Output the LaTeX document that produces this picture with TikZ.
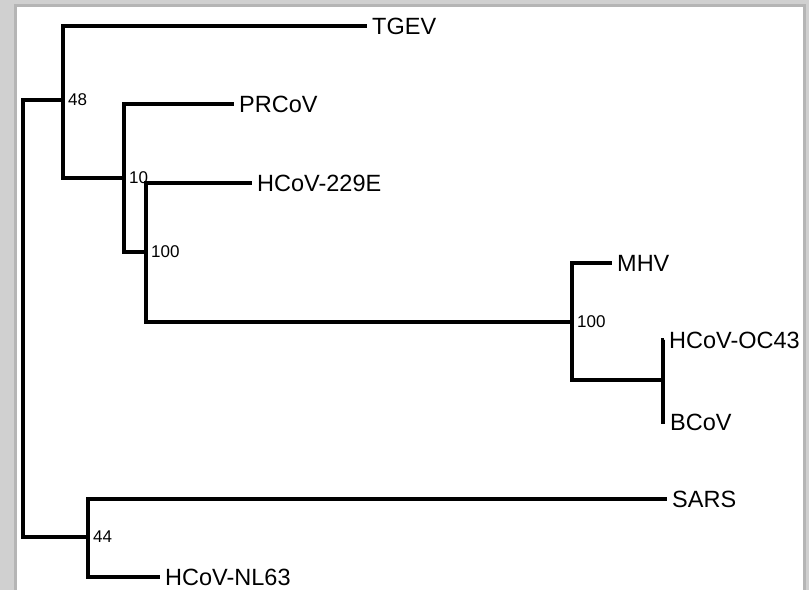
\documentclass[tikz,border=0pt]{standalone}
\usepackage{fontspec}
\setmainfont{Liberation Sans}
\usetikzlibrary{positioning}
\definecolor{FrameGray}{RGB}{208,208,208}
\definecolor{FrameEdge}{RGB}{170,170,170}

\begin{document}
\begin{tikzpicture}[
  x=1pt,y=-1pt,
  branch/.style={line width=4.5pt,line join=miter,line cap=butt},
  taxon/.style={anchor=west,inner sep=5pt,font=\fontsize{23.5}{25}\selectfont},
  boot/.style={anchor=west,inner sep=1pt,xshift=4pt,font=\fontsize{17}{19}\selectfont}
]
\useasboundingbox (0,0) rectangle (809,590);
% frame
\fill[FrameGray] (0,0) rectangle (809,590);
\fill[FrameEdge!70!FrameGray] (14,4) rectangle (806,590);
\fill[white] (17,7) rectangle (803,590);
% internal nodes
\coordinate (root) at (23,318);
\coordinate (n48) at (63,100);
\coordinate (n10) at (124,178);
\coordinate (n100a) at (146,252);
\coordinate (n100b) at (572,322);
\coordinate (noc) at (663,380);
\coordinate (n44) at (88,537);
% leaves
\node[taxon] (tgev) at (367,26) {TGEV};
\node[taxon] (prcov) at (234,104) {PRCoV};
\node[taxon] (hcoe) at (252,183) {HCoV-229E};
\node[taxon] (mhv) at (612,263) {MHV};
\node[taxon] (oc43) at (664,340) {HCoV-OC43};
\node[taxon] (bcov) at (665,422) {BCoV};
\node[taxon] (sars) at (667,499) {SARS};
\node[taxon] (nl63) at (160,577) {HCoV-NL63};
% branches
\draw[branch] (root) |- (n48);
\draw[branch] (root) |- (n44);
\draw[branch] (n48) |- (tgev.west);
\draw[branch] (n48) |- (n10);
\draw[branch] (n10) |- (prcov.west);
\draw[branch] (n10) |- (n100a);
\draw[branch] (n100a) |- (hcoe.west);
\draw[branch] (n100a) |- (n100b);
\draw[branch] (n100b) |- (mhv.west);
\draw[branch] (n100b) |- (noc);
\draw[branch] (noc) |- (oc43.west);
\draw[branch] (noc) |- (bcov.west);
\draw[branch] (n44) |- (sars.west);
\draw[branch] (n44) |- (nl63.west);
% bootstrap values
\node[boot] (b48) at (n48) {48};
\node[boot] (b10) at (n10) {10};
\node[boot] (b100a) at (n100a) {100};
\node[boot] (b100b) at (n100b) {100};
\node[boot] (b44) at (n44) {44};
\end{tikzpicture}
\end{document}
